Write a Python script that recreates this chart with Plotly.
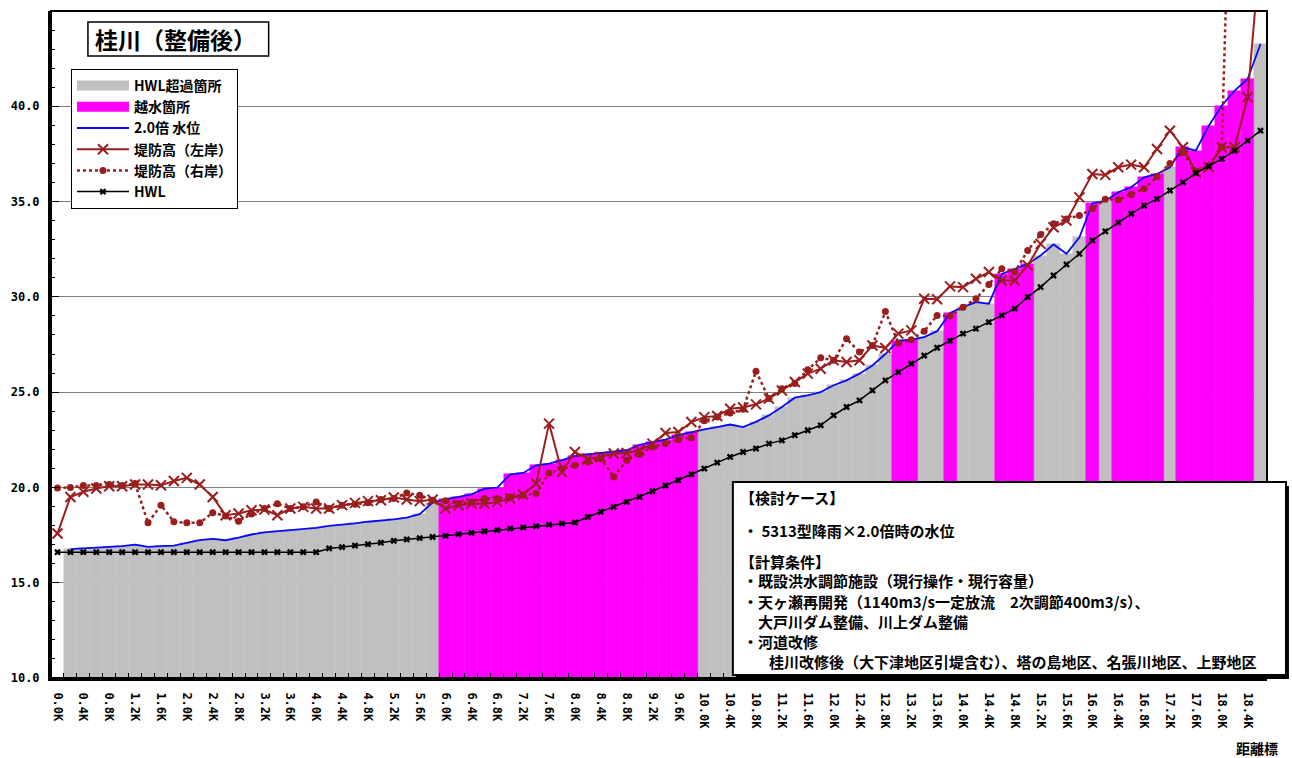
import plotly.graph_objects as go

# ---------------- data ----------------
dist_km = [round(i * 0.2, 1) for i in range(94)]          # 0.0K .. 18.6K
tick_km = [round(i * 0.4, 1) for i in range(47)]          # 0.0K .. 18.4K
tick_labels = [f"{v:.1f}K" for v in tick_km]
y_tickvals = [10, 15, 20, 25, 30, 35, 40]
y_ticklabels = ["10.0", "15.0", "20.0", "25.0", "30.0", "35.0", "40.0"]

# 2.0倍 水位 (bars follow the same height)
water_level = [
    None, 16.76, 16.80, 16.83, 16.87, 16.92, 17.00, 16.88, 16.92, 16.95,
    17.09, 17.23, 17.30, 17.23, 17.37, 17.53, 17.64, 17.70, 17.76, 17.79,
    17.88, 17.98, 18.04, 18.11, 18.20, 18.25, 18.32, 18.42, 18.60, 19.20,
    19.38, 19.50, 19.64, 19.94, 19.99, 20.69, 20.76, 21.16, 21.25, 21.43,
    21.64, 21.74, 21.81, 21.86, 21.95, 22.24, 22.38, 22.51, 22.74, 22.91,
    23.04, 23.17, 23.30, 23.17, 23.44, 23.78, 24.22, 24.71, 24.83, 25.00,
    25.36, 25.62, 25.97, 26.40, 27.00, 27.70, 27.75, 27.89, 28.20, 29.15,
    29.46, 29.72, 29.64, 31.20, 31.47, 31.73, 32.17, 32.75, 32.26, 33.13,
    34.90, 35.03, 35.49, 35.75, 36.27, 36.45, 36.80, 37.85, 37.67, 38.98,
    40.03, 40.82, 41.43, 43.27,
]

# 1 = 越水箇所 (overtopping), 0 = HWL超過箇所
overtop_flag = [
    0, 0, 0, 0, 0, 0, 0, 0, 0, 0,
    0, 0, 0, 0, 0, 0, 0, 0, 0, 0,
    0, 0, 0, 0, 0, 0, 0, 0, 0, 0,
    1, 1, 1, 1, 1, 1, 1, 1, 1, 1,
    1, 1, 1, 1, 1, 1, 1, 1, 1, 1,
    0, 0, 0, 0, 0, 0, 0, 0, 0, 0,
    0, 0, 0, 0, 0, 1, 1, 0, 0, 1,
    0, 0, 0, 1, 1, 1, 0, 0, 0, 0,
    1, 0, 1, 1, 1, 1, 0, 1, 1, 1,
    1, 1, 1, 0,
]

levee_left = [
    17.58, 19.50, 19.77, 19.94, 20.06, 20.06, 20.15, 20.15, 20.11, 20.34,
    20.50, 20.15, 19.50, 18.54, 18.63, 18.80, 18.84, 18.54, 18.89, 18.98,
    18.89, 18.89, 19.07, 19.19, 19.28, 19.33, 19.47, 19.37, 19.28, 19.35,
    18.89, 19.07, 19.15, 19.15, 19.24, 19.42, 19.63, 20.20, 23.35, 20.81,
    21.86, 21.51, 21.60, 21.78, 21.81, 21.95, 22.30, 22.86, 22.91, 23.43,
    23.69, 23.75, 24.13, 24.19, 24.36, 24.66, 25.09, 25.53, 25.97, 26.23,
    26.67, 26.58, 26.67, 27.45, 27.32, 28.07, 28.24, 29.90, 29.87, 30.55,
    30.51, 30.95, 31.30, 30.86, 30.86, 31.65, 32.78, 33.65, 34.00, 35.22,
    36.45, 36.40, 36.80, 36.94, 36.80, 37.76, 38.72, 37.85, 36.54, 36.80,
    37.85, 37.85, 40.47, 48.40,
]

levee_right = [
    19.97, 20.00, 20.10, 20.10, 20.15, 20.10, 20.20, 18.14, 19.07, 18.20,
    18.14, 18.14, 18.67, 18.50, 18.23, 18.60, 18.89, 19.15, 18.89, 18.98,
    19.24, 18.89, 19.07, 19.12, 19.19, 19.37, 19.42, 19.71, 19.59, 19.33,
    19.30, 19.15, 19.24, 19.42, 19.42, 19.50, 19.59, 19.68, 20.76, 20.99,
    21.16, 21.34, 21.51, 20.55, 21.43, 21.74, 22.12, 22.30, 22.51, 22.61,
    23.50, 23.70, 23.90, 24.10, 26.10, 24.66, 25.18, 25.45, 26.18, 26.80,
    26.67, 27.80, 27.10, 27.45, 29.23, 27.57, 27.75, 28.20, 29.02, 28.99,
    29.46, 29.90, 30.65, 31.47, 31.30, 32.43, 33.27, 33.83, 34.09, 34.27,
    34.62, 35.12, 35.09, 35.37, 35.67, 36.30, 37.00, 37.58, 36.60, 36.89,
    37.85, 61.00, 62.00, 63.00,
]

hwl = [
    16.60, 16.60, 16.60, 16.60, 16.60, 16.60, 16.60, 16.60, 16.60, 16.60,
    16.60, 16.60, 16.60, 16.60, 16.60, 16.60, 16.60, 16.60, 16.60, 16.60,
    16.60, 16.80, 16.87, 16.95, 17.02, 17.10, 17.20, 17.27, 17.34, 17.40,
    17.46, 17.55, 17.62, 17.70, 17.76, 17.84, 17.90, 17.97, 18.05, 18.10,
    18.16, 18.45, 18.72, 18.98, 19.24, 19.50, 19.80, 20.10, 20.38, 20.69,
    20.99, 21.30, 21.60, 21.86, 22.04, 22.30, 22.47, 22.74, 23.00, 23.26,
    23.78, 24.22, 24.57, 25.09, 25.62, 26.05, 26.49, 26.92, 27.33, 27.70,
    28.07, 28.33, 28.67, 29.03, 29.38, 29.99, 30.51, 31.12, 31.70, 32.26,
    32.96, 33.44, 33.90, 34.36, 34.79, 35.14, 35.58, 36.01, 36.49, 36.85,
    37.24, 37.67, 38.20, 38.72,
]

series_names = ["HWL超過箇所", "越水箇所", "2.0倍 水位", "堤防高（左岸）", "堤防高（右岸）", "HWL"]
chart_title = "桂川（整備後）"
axis_note = "距離標"
info_lines = [
    "【検討ケース】",
    "・ 5313型降雨×2.0倍時の水位",
    "【計算条件】",
    "・既設洪水調節施設（現行操作・現行容量）",
    "・天ヶ瀬再開発（1140m3/s一定放流　2次調節400m3/s）、",
    "　大戸川ダム整備、川上ダム整備",
    "・河道改修",
    "　　桂川改修後（大下津地区引堤含む）、塔の島地区、名張川地区、上野地区",
]

# ---------------- styling ----------------
GRAY = "#C0C0C0"
MAGENTA = "#FF00FF"
BLUE = "#0A0AF0"
DARKRED = "#9A1E1E"
JP = "Noto Sans CJK JP"
MONO = "DejaVu Sans Mono"

W, H = 1292, 758
PL, PR, PT, PB = 49, 1267, 11, 678


def fx(px):
    return (px - PL) / (PR - PL)


def fy(py):
    return (PB - py) / (PB - PT)


gray_y = [w if (w is not None and f == 0) else None for w, f in zip(water_level, overtop_flag)]
mag_y = [w if (w is not None and f == 1) else None for w, f in zip(water_level, overtop_flag)]

fig = go.Figure()

fig.add_trace(go.Bar(x=dist_km, y=gray_y, width=0.2, marker=dict(color=GRAY, line=dict(color=GRAY, width=0.5)),
                     showlegend=False, hoverinfo="skip"))
fig.add_trace(go.Bar(x=dist_km, y=mag_y, width=0.2, marker=dict(color=MAGENTA, line=dict(color=MAGENTA, width=0.5)),
                     showlegend=False, hoverinfo="skip"))

# legend-only swatches for the bars
fig.add_trace(go.Scatter(x=[None], y=[None], mode="lines", line=dict(color=GRAY, width=10),
                         name=series_names[0], legendrank=1))
fig.add_trace(go.Scatter(x=[None], y=[None], mode="lines", line=dict(color=MAGENTA, width=10),
                         name=series_names[1], legendrank=2))

fig.add_trace(go.Scatter(x=dist_km, y=water_level, mode="lines", line=dict(color=BLUE, width=1.8),
                         name=series_names[2], legendrank=3, connectgaps=False))
fig.add_trace(go.Scatter(x=dist_km, y=levee_left, mode="lines+markers",
                         line=dict(color=DARKRED, width=2),
                         marker=dict(symbol="x-thin", size=10, color=DARKRED, line=dict(color=DARKRED, width=2)),
                         name=series_names[3], legendrank=4))
fig.add_trace(go.Scatter(x=dist_km, y=levee_right, mode="lines+markers",
                         line=dict(color=DARKRED, width=2.5, dash="dot"),
                         marker=dict(symbol="circle", size=7, color=DARKRED),
                         name=series_names[4], legendrank=5))
fig.add_trace(go.Scatter(x=dist_km, y=hwl, mode="lines+markers",
                         line=dict(color="black", width=1.5),
                         marker=dict(symbol="x", size=6, color="black"),
                         name=series_names[5], legendrank=6))

shapes = [
    # plot frame
    dict(type="rect", xref="paper", yref="paper", x0=0, x1=1, y0=0, y1=1,
         line=dict(color="black", width=2), layer="above"),
    # title box
    dict(type="rect", xref="paper", yref="paper", x0=fx(86), x1=fx(267), y0=fy(56), y1=fy(22),
         line=dict(color="black", width=1.5), fillcolor="white", layer="above"),
    # info box shadow
    dict(type="rect", xref="paper", yref="paper", x0=fx(735), x1=fx(1289), y0=fy(679), y1=fy(486),
         line=dict(color="black", width=0), fillcolor="black", layer="above"),
    # info box
    dict(type="rect", xref="paper", yref="paper", x0=fx(732), x1=fx(1286), y0=fy(675), y1=fy(482),
         line=dict(color="black", width=2), fillcolor="white", layer="above"),
]

annotations = [
    dict(text=chart_title, xref="paper", yref="paper", x=fx(174), y=fy(39), xanchor="center", yanchor="middle",
         showarrow=False, font=dict(family=JP, size=23, color="black", weight="bold")),
    dict(text=axis_note, xref="paper", yref="paper", x=fx(1280), y=fy(748), xanchor="right", yanchor="middle",
         showarrow=False, font=dict(family=JP, size=14, color="black", weight="bold")),
]
line_pos = [(737, 497), (740, 530), (737, 561), (740, 580), (740, 601), (740, 621), (740, 641), (736, 661)]
for txt, (px, py) in zip(info_lines, line_pos):
    annotations.append(dict(text=txt, xref="paper", yref="paper", x=fx(px), y=fy(py), xanchor="left",
                            yanchor="middle", showarrow=False,
                            font=dict(family=JP, size=15, color="black", weight="bold")))

fig.update_layout(
    width=W, height=H,
    margin=dict(l=PL, r=W - PR, t=PT, b=H - PB, pad=0),
    paper_bgcolor="white", plot_bgcolor="white",
    barmode="overlay", bargap=0,
    showlegend=True,
    legend=dict(x=fx(69), y=fy(69), xanchor="left", yanchor="top", bgcolor="white",
                bordercolor="black", borderwidth=1, itemwidth=52, tracegroupgap=0,
                font=dict(family=JP, size=14, color="black", weight="bold")),
    shapes=shapes,
    annotations=annotations,
    xaxis=dict(range=[-0.1, 18.7], tickmode="array", tickvals=tick_km, ticktext=tick_labels,
               tickangle=90, ticks="", showgrid=False, zeroline=False,
               showline=True, linecolor="black", linewidth=3,
               tickfont=dict(family=MONO, size=12, color="black", weight="bold"),
               ticklabelstandoff=9,
               minor=dict(tick0=0.1, dtick=0.2, ticks="inside", ticklen=5, tickcolor="black",
                          tickwidth=1, showgrid=False)),
    yaxis=dict(range=[10, 45], tickmode="array", tickvals=y_tickvals, ticktext=y_ticklabels,
               ticks="inside", ticklen=8, tickcolor="black", tickwidth=1,
               showgrid=True, gridcolor="#808080", gridwidth=1, zeroline=False,
               showline=True, linecolor="black", linewidth=3,
               tickfont=dict(family=MONO, size=12, color="black", weight="bold"),
               ticklabelstandoff=6,
               minor=dict(tick0=10, dtick=1, ticks="inside", ticklen=4, tickcolor="black",
                          tickwidth=1, showgrid=False)),
)

fig.write_html("out.html", config={"displayModeBar": False},
               post_script="document.body.style.margin='0';document.body.style.overflow='hidden';")
